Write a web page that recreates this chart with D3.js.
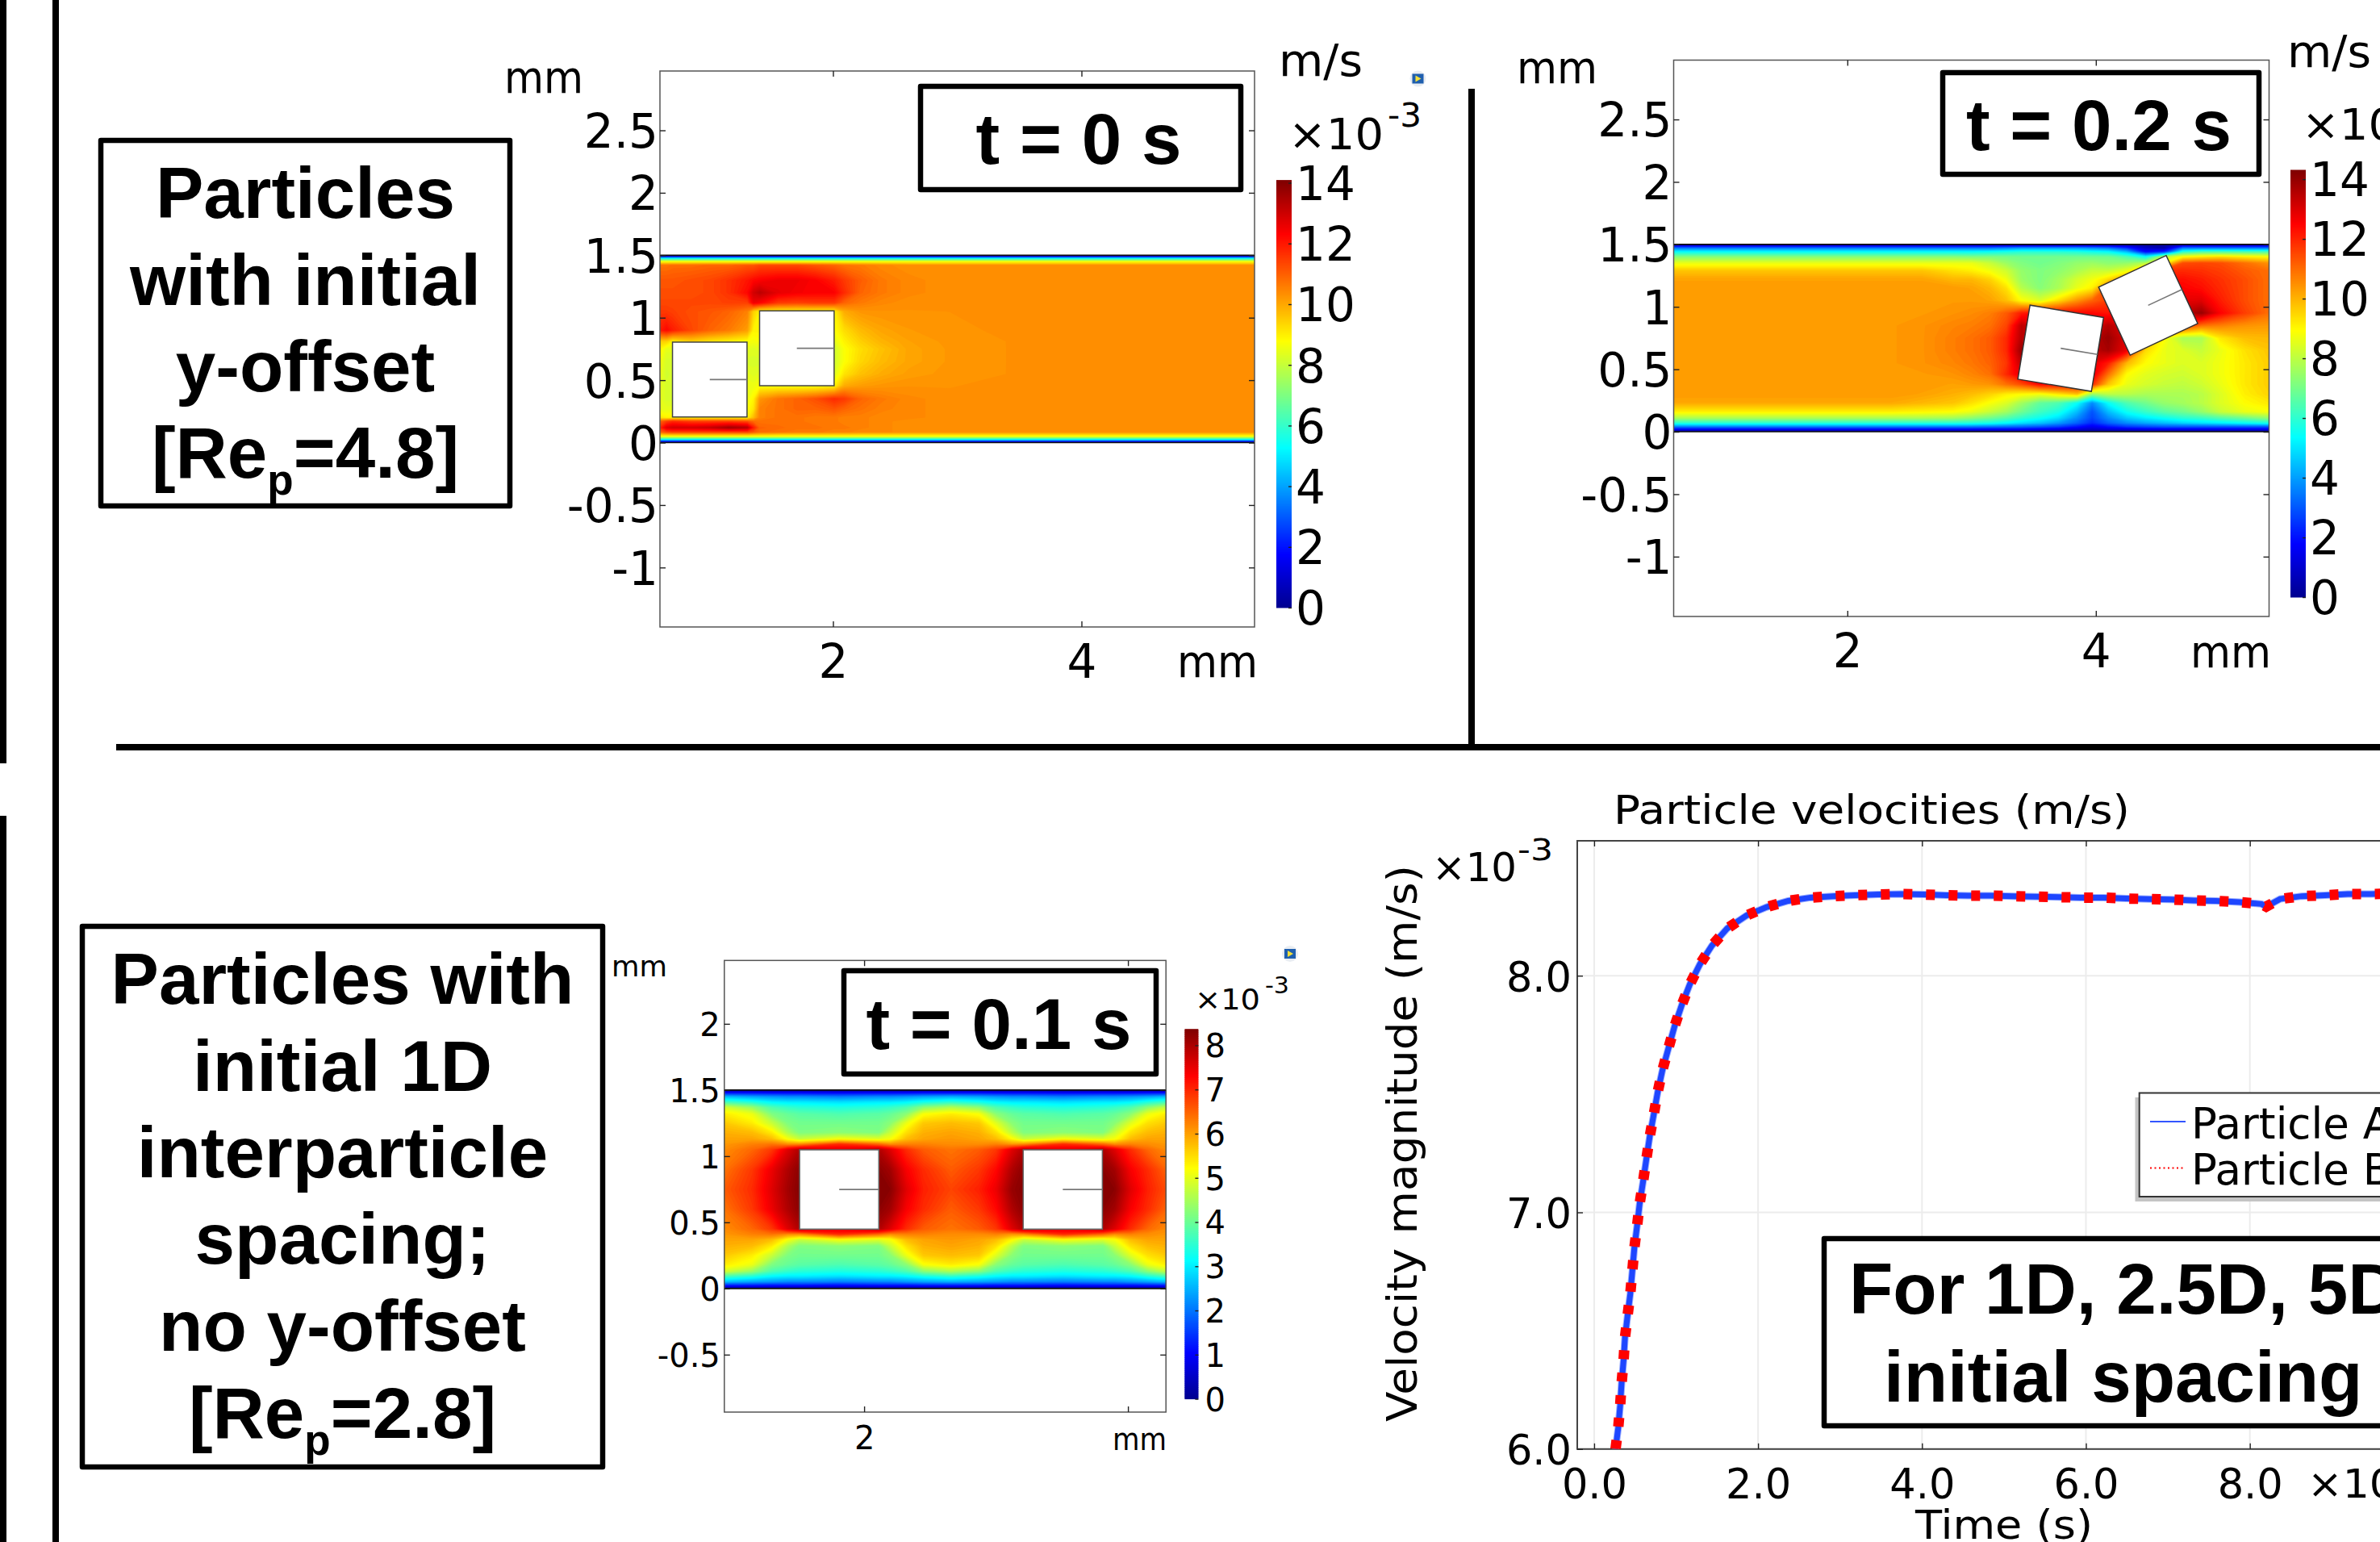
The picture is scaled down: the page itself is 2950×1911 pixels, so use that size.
<!DOCTYPE html>
<html>
<head>
<meta charset="utf-8">
<title>Particle velocity fields</title>
<script src="https://cdnjs.cloudflare.com/ajax/libs/d3/7.8.5/d3.min.js"></script>
<style>
  html, body { margin: 0; padding: 0; background: #fff; }
  svg { display: block; }
  .lbl { font-family: "DejaVu Sans", sans-serif; fill: #000; }
  .note { font-family: "Liberation Sans", Arial, sans-serif; font-weight: bold; fill: #000; }
</style>
</head>
<body>
<svg id="fig" width="2950" height="1911"></svg>
<script>
// ---- tick labels ----
const channelTicksTall = [-1, -0.5, 0, 0.5, 1, 1.5, 2, 2.5];
const channelTicksShort = [-0.5, 0, 0.5, 1, 1.5, 2];
const channelTicksX = [2, 4];
const barTicks14 = [0, 2, 4, 6, 8, 10, 12, 14];
const barTicks8 = [0, 1, 2, 3, 4, 5, 6, 7, 8];
const timeTicks = [0, 2, 4, 6, 8];
const velocityTicks = [6, 7, 8];

// ---- particles: centre (mm), tilt (degrees, counter clockwise), side 0.6 mm ----
const particleSide = 0.6;
const t0ParticleX = [1.008, 1.709];
const t0ParticleY = [0.505, 0.755];
const t0ParticleTilt = [0, 0];
const t02ParticleX = [3.717, 4.421];
const t02ParticleY = [0.668, 1.012];
const t02ParticleTilt = [-9.4, 25];
const t01ParticleX = [1.811, 3.506];
const t01ParticleY = [0.748, 0.748];
const t01ParticleTilt = [0, 0];

// ---- speed field at t = 0 s, rows from the bottom wall up (m/s x 1e-3) ----
const t0GridX = [0.607, 0.66, 0.71, 0.86, 1.01, 1.16, 1.31, 1.36, 1.41, 1.56, 1.71, 1.86, 2.01, 2.09, 2.22, 2.39, 2.61, 2.94, 3.4, 5.4];
const t0GridY = [0, 0.015, 0.03, 0.05, 0.085, 0.12, 0.17, 0.2, 0.27, 0.35, 0.455, 0.55, 0.65, 0.75, 0.81, 0.9, 1.05, 1.12, 1.2, 1.3, 1.42, 1.45, 1.47, 1.485, 1.5];
const t0Wall0 = [0, 0, 0, 0, 0, 0, 0, 0, 0, 0, 0, 0, 0, 0, 0, 0, 0, 0, 0, 0];
const t0Wall1 = [3, 3, 3, 3, 3, 3, 3, 3, 3, 3, 3, 3, 3, 3, 3, 3, 3, 3, 3, 3];
const t0Wall2 = [6, 6, 6, 6, 6, 6, 6, 6, 6, 6, 6, 6, 6, 6, 6, 6, 6, 6, 6, 6];
const t0Wall3 = [8.7, 8.7, 8.7, 8.7, 8.7, 8.7, 8.7, 8.7, 8.7, 8.7, 8.7, 8.7, 8.7, 8.7, 8.7, 8.7, 8.7, 8.7, 8.7, 8.7];
const t0Speed = [
  t0Wall0, t0Wall1, t0Wall2, t0Wall3,
  [11, 11.4, 11.5, 11.5, 11.5, 11.5, 11.5, 11.2, 10.9, 10.8, 10.7, 10.7, 10.6, 10.6, 10.5, 10.5, 10.4, 10.4, 10.4, 10.4],
  [11.8, 12.8, 13, 13, 13.2, 13.7, 13.4, 12, 11, 10.9, 10.8, 10.8, 10.7, 10.7, 10.6, 10.5, 10.4, 10.4, 10.4, 10.4],
  [11, 11.5, 11.8, 11.5, 11.5, 11.5, 11.3, 10.9, 10.8, 10.8, 10.8, 10.7, 10.7, 10.6, 10.6, 10.5, 10.4, 10.4, 10.4, 10.4],
  [9.2, 9, 9, 9, 9, 9, 9, 9.8, 10.6, 10.8, 10.8, 10.7, 10.7, 10.6, 10.6, 10.5, 10.5, 10.4, 10.4, 10.4],
  [8.5, 8.5, 8.5, 8.5, 8.5, 8.5, 8.8, 9.2, 10.6, 10.8, 11, 11, 11.2, 11, 10.8, 10.6, 10.5, 10.4, 10.4, 10.4],
  [8.5, 8.3, 8.3, 8.3, 8.3, 8.3, 8.6, 9, 10.3, 10.8, 11, 11.3, 11.8, 11.6, 11, 10.7, 10.5, 10.4, 10.4, 10.4],
  [8.5, 8.3, 8.3, 8.3, 8.3, 8.3, 8.6, 8.6, 8.8, 8.8, 8.8, 8.8, 9, 10, 10.2, 10.3, 10.35, 10.35, 10.4, 10.4],
  [8.6, 8.2, 8.3, 8.3, 8.3, 8.3, 8.5, 8.4, 8.5, 8.5, 8.5, 8.5, 8.4, 9.2, 9.7, 10, 10.2, 10.3, 10.36, 10.4],
  [8.7, 8.3, 8.3, 8.3, 8.3, 8.3, 8.3, 8.3, 8.3, 8.3, 8.3, 8.3, 8.2, 8.8, 9.4, 9.8, 10.1, 10.28, 10.36, 10.4],
  [9, 8.5, 8.5, 8.5, 8.5, 8.5, 8.5, 8.4, 8.5, 8.5, 8.5, 8.5, 8.2, 8.8, 9.3, 9.7, 10.1, 10.28, 10.36, 10.4],
  [9.5, 9.5, 9, 9.5, 9.2, 9, 8.8, 8.7, 8.8, 8.8, 8.8, 8.8, 8.5, 9, 9.5, 9.9, 10.15, 10.3, 10.36, 10.4],
  [12, 12.3, 12, 11.4, 11, 10.7, 10.2, 9, 9, 9, 9, 9, 8.8, 9.3, 9.8, 10.1, 10.25, 10.33, 10.38, 10.4],
  [11.6, 11.6, 11.5, 11.3, 11.2, 11, 10.6, 9.5, 9, 9, 9, 9, 9, 10, 10.3, 10.35, 10.35, 10.36, 10.4, 10.4],
  [11.4, 11.4, 11.4, 11.4, 11.4, 11.5, 11.5, 12.6, 12.4, 11.6, 11.5, 11.6, 11.6, 11, 10.7, 10.5, 10.4, 10.4, 10.4, 10.4],
  [11.3, 11.3, 11.3, 11.3, 11.4, 11.7, 12.3, 13, 13.3, 12.7, 12.5, 12.4, 12.4, 11.8, 11, 10.7, 10.5, 10.4, 10.4, 10.4],
  [11.2, 11.2, 11.2, 11.3, 11.4, 11.7, 12.1, 12.3, 12.4, 12.6, 12.6, 12.4, 12, 11.6, 11.1, 10.7, 10.5, 10.4, 10.4, 10.4],
  [10.8, 10.8, 10.9, 10.9, 11, 11, 11.2, 11.2, 11.4, 11.4, 11.4, 11.2, 11, 10.8, 10.7, 10.5, 10.4, 10.4, 10.4, 10.4],
  t0Wall3, t0Wall2, t0Wall1, t0Wall0
];

// ---- speed field at t = 0.2 s ----
const t02GridX = [0.6, 2, 2.35, 2.6, 2.85, 3, 3.15, 3.28, 3.4, 3.55, 3.7, 3.85, 3.97, 4.1, 4.25, 4.4, 4.55, 4.7, 4.85, 5, 5.2, 5.4];
const t02GridY = [0, 0.02, 0.04, 0.07, 0.11, 0.16, 0.23, 0.3, 0.38, 0.46, 0.55, 0.65, 0.75, 0.85, 0.95, 1.05, 1.15, 1.22, 1.29, 1.35, 1.4, 1.44, 1.47, 1.49, 1.5];
const t02Wall0 = [0, 0, 0, 0, 0, 0, 0, 0, 0, 0, 0, 0, 0, 0, 0, 0, 0, 0, 0, 0, 0, 0];
const t02Speed = [
  t02Wall0,
  [1.8, 1.8, 1.8, 1.8, 1.8, 1.8, 1.8, 1.8, 1.8, 1.6, 1.5, 1.2, 1, 1.2, 1.4, 1.5, 1.6, 1.6, 1.6, 1.6, 1.6, 1.6],
  [3.5, 3.5, 3.5, 3.5, 3.5, 3.5, 3.4, 3.3, 3.2, 3, 2.7, 2.1, 1.6, 2.1, 2.6, 2.8, 3, 3, 3, 3, 3, 3],
  [6, 6, 6, 6, 6, 5.9, 5.7, 5.4, 5, 4.6, 4, 3.2, 2.4, 3.2, 3.8, 4.2, 4.5, 4.8, 5, 5.2, 5.5, 5.8],
  [7.8, 7.8, 7.8, 7.8, 7.7, 7.4, 7, 6.6, 6.1, 5.6, 5, 3.8, 2.8, 3.8, 4.7, 5.2, 5.6, 6, 6.2, 6.6, 7, 7.5],
  [9.2, 9.2, 9.2, 9.1, 9, 8.7, 8.2, 7.7, 7, 6.3, 5.8, 4.5, 3, 4.5, 5.6, 6.2, 6.7, 7, 7.5, 8.2, 8.7, 8.9],
  [10.2, 10.2, 10.2, 10, 9.8, 9.4, 8.9, 8.5, 7.7, 6.8, 6.5, 5.5, 3.8, 5.5, 6.5, 7, 7.5, 7.7, 8, 8.5, 9, 9.3],
  [10.4, 10.4, 10.4, 10.3, 10.1, 9.9, 9.6, 9.2, 9, 8.8, 9.3, 9.8, 7.5, 8, 8, 7.8, 7.8, 7.8, 8, 8.5, 9.2, 9.6],
  [10.4, 10.4, 10.4, 10.4, 10.3, 10.4, 10.5, 11, 11.5, 12.5, 12.5, 12.5, 12, 9.8, 8.7, 8.4, 8.2, 8.1, 8.3, 8.7, 9.3, 9.7],
  [10.4, 10.4, 10.4, 10.4, 10.5, 10.7, 11, 12, 13, 13, 13, 13, 13, 11, 9, 8.6, 8.4, 8.3, 8.5, 8.8, 9.3, 9.7],
  [10.4, 10.4, 10.4, 10.5, 10.7, 10.9, 11.2, 11.8, 13.5, 13, 13, 13, 13, 12.2, 10, 9, 8.7, 8.5, 8.5, 8.8, 9.3, 9.7],
  [10.4, 10.4, 10.4, 10.5, 10.8, 11, 11.3, 12, 14, 13, 13, 13, 13.5, 13.8, 12.8, 9.5, 8.7, 8.5, 8.2, 8.7, 9.4, 9.8],
  [10.4, 10.4, 10.4, 10.5, 10.8, 11, 11.3, 12, 13.6, 13, 13, 13, 13.5, 14, 13, 11, 9, 7.8, 7.8, 9.3, 9.9, 10],
  [10.4, 10.4, 10.4, 10.5, 10.7, 10.8, 11, 11.6, 13.5, 13, 13, 13, 13, 13.6, 13, 12, 12, 12, 11, 10.8, 10.5, 10.4],
  [10.4, 10.4, 10.4, 10.4, 10.5, 10.6, 10.8, 11.3, 12.2, 12.5, 12.5, 12.5, 12.5, 12.3, 13, 13, 13, 13.5, 14, 12.6, 11.7, 11],
  [10.4, 10.4, 10.4, 10.4, 10.4, 10.4, 10.3, 9.9, 9, 8.5, 9.5, 10.5, 11.2, 11.7, 12, 12.5, 12.8, 12.9, 13, 12.2, 11.5, 11],
  [10.4, 10.4, 10.4, 10.4, 10.4, 10.3, 10, 9.4, 8, 7.3, 7.8, 8.7, 9.2, 11.5, 12, 12.3, 12.5, 12.6, 12.4, 12, 11.5, 11],
  [10.3, 10.3, 10.3, 10.3, 10, 10, 9.6, 8.8, 7.6, 7.2, 7.7, 8.4, 8.8, 9.5, 11, 12, 12.3, 12.4, 12.2, 11.9, 11.5, 11],
  [9.8, 9.8, 9.8, 9.8, 9.4, 9.2, 8.8, 8.3, 7.5, 7.2, 7.4, 7.8, 8.2, 8.2, 8.7, 11, 11.9, 12, 11.9, 11.7, 11.3, 11],
  [8.7, 8.7, 8.7, 8.7, 8.7, 8.7, 8.2, 7.6, 7.2, 7, 7.2, 7.5, 7.6, 7.4, 7.5, 8, 9, 11.5, 11.6, 11.5, 11, 10.5],
  [7.3, 7.3, 7.3, 7.3, 7.3, 7.2, 7.2, 7.1, 7, 7, 7, 7, 7, 7, 6.5, 5.5, 8, 9, 9.3, 9.5, 9.2, 9],
  [5.5, 5.5, 5.5, 5.5, 5.5, 5.5, 5.6, 5.8, 6, 6, 6, 5.9, 5.7, 5.5, 4.5, 2, 2.5, 6, 6.5, 6.5, 6.5, 6.5],
  [3.5, 3.5, 3.5, 3.5, 3.5, 3.5, 3.5, 3.7, 4, 4, 4, 4, 3.8, 3.5, 2.5, 1, 0.5, 3.5, 3.5, 3.5, 3.5, 3.5],
  [1.5, 1.5, 1.5, 1.5, 1.5, 1.5, 1.5, 1.5, 1.5, 1.5, 1.5, 1.5, 1.5, 1.5, 1.2, 0.5, 0.5, 1.5, 1.5, 1.5, 1.5, 1.5],
  t02Wall0
];

// ---- speed field at t = 0.1 s, nearly the same above and below the centre line ----
const t01GridX = [0.94, 1.15, 1.3, 1.42, 1.51, 1.81, 2.11, 2.2, 2.32, 2.45, 2.66, 2.87, 3, 3.12, 3.21, 3.51, 3.81, 3.9, 4.02, 4.15, 4.3];
const t01GridY = [0, 0.02, 0.05, 0.09, 0.13, 0.18, 0.25, 0.32, 0.37, 0.41, 0.45, 0.6, 0.75, 0.9, 1.05, 1.09, 1.13, 1.18, 1.25, 1.32, 1.37, 1.41, 1.45, 1.48, 1.5];
const t01Row00 = [0, 0, 0, 0, 0, 0, 0, 0, 0, 0, 0, 0, 0, 0, 0, 0, 0, 0, 0, 0, 0];
const t01Row02 = [1.1, 1.1, 1.05, 1.05, 1.05, 1, 1.05, 1.05, 1.05, 1.1, 1.1, 1.1, 1.05, 1.05, 1.05, 1, 1.05, 1.05, 1.05, 1.1, 1.1];
const t01Row05 = [2.6, 2.4, 2.3, 2.2, 2.2, 2.1, 2.2, 2.2, 2.3, 2.4, 2.5, 2.4, 2.3, 2.2, 2.2, 2.1, 2.2, 2.2, 2.3, 2.4, 2.6];
const t01Row09 = [3.7, 3.4, 3.1, 3, 3, 2.9, 3, 3, 3.1, 3.3, 3.5, 3.3, 3.1, 3, 3, 2.9, 3, 3, 3.1, 3.4, 3.7];
const t01Row13 = [4.9, 4.4, 3.8, 3.6, 3.5, 3.4, 3.5, 3.6, 3.8, 4.3, 4.6, 4.3, 3.8, 3.6, 3.5, 3.4, 3.5, 3.6, 3.8, 4.3, 4.8];
const t01Row18 = [5.4, 5.1, 4.2, 4, 3.9, 3.8, 3.9, 4, 4.3, 5.2, 5.4, 5.2, 4.3, 4, 3.9, 3.8, 3.9, 4, 4.3, 5.1, 5.4];
const t01Row25 = [5.7, 5.4, 4.8, 4.2, 4.1, 4.1, 4.1, 4.3, 5.1, 5.7, 5.8, 5.7, 5, 4.3, 4.1, 4.1, 4.1, 4.3, 5, 5.5, 5.7];
const t01Row32 = [5.9, 5.8, 5.4, 4.6, 4.2, 4.3, 4.2, 4.8, 5.5, 5.9, 6, 5.9, 5.5, 4.7, 4.2, 4.3, 4.2, 4.8, 5.5, 5.8, 5.9];
const t01Row37 = [6, 6, 5.8, 5.2, 4.8, 5.2, 5, 5.2, 5.8, 6, 6.1, 6, 5.8, 5.3, 4.8, 5.2, 5, 5.2, 5.8, 6, 6];
const t01Row41 = [6.1, 6.3, 6.4, 6.2, 6.2, 7, 6.5, 6.2, 6.3, 6.3, 6.2, 6.2, 6.3, 6.1, 6.2, 7, 6.5, 6.2, 6.3, 6.2, 6.1];
const t01Row45 = [6.2, 6.5, 6.9, 7.6, 8, 7.6, 8, 7.6, 7, 6.6, 6.4, 6.6, 6.9, 7.6, 8, 7.6, 8, 7.6, 7, 6.5, 6.2];
const t01Row60 = [6.4, 6.9, 7.5, 8, 8.3, 8.3, 8.3, 8.1, 7.4, 7, 6.6, 6.9, 7.3, 8, 8.3, 8.3, 8.3, 8.1, 7.4, 7, 6.5];
const t01Row75 = [6.6, 7, 7.6, 8.1, 8.36, 8.36, 8.36, 8.3, 7.6, 7.1, 6.8, 7.1, 7.5, 8.2, 8.36, 8.36, 8.36, 8.3, 7.6, 7.1, 6.7];
const t01Speed = [
  t01Row00, t01Row02, t01Row05, t01Row09, t01Row13, t01Row18, t01Row25, t01Row32, t01Row37, t01Row41, t01Row45, t01Row60,
  t01Row75,
  t01Row60, t01Row45, t01Row41, t01Row37, t01Row32, t01Row25, t01Row18, t01Row13, t01Row09, t01Row05, t01Row02, t01Row00
];

// ---- particle velocity curves (time in the axis units, velocity x 1e-3 m/s) ----
const timeValues = [0.261, 0.294, 0.318, 0.335, 0.359, 0.376, 0.408, 0.441, 0.466, 0.49, 0.523, 0.555, 0.596, 0.637, 0.678, 0.727, 0.776, 0.833, 0.906, 0.98, 1.07, 1.168, 1.29, 1.437, 1.625, 1.862, 2.107, 2.368, 2.638, 2.915, 3.185, 3.463, 3.74, 4.018, 4.296, 4.565, 4.843, 5.112, 5.39, 5.668, 5.937, 6.215, 6.492, 6.77, 7.04, 7.317, 7.587, 7.873, 8.142, 8.2, 8.37, 8.632, 8.918, 9.195, 9.473, 9.857];
const particleAVelocity = [6, 6.09, 6.186, 6.278, 6.374, 6.47, 6.564, 6.656, 6.752, 6.848, 6.94, 7.036, 7.128, 7.225, 7.32, 7.413, 7.509, 7.601, 7.693, 7.785, 7.877, 7.964, 8.048, 8.127, 8.2, 8.255, 8.29, 8.316, 8.33, 8.336, 8.34, 8.343, 8.345, 8.343, 8.34, 8.338, 8.338, 8.336, 8.334, 8.332, 8.33, 8.33, 8.326, 8.324, 8.322, 8.318, 8.316, 8.311, 8.303, 8.292, 8.324, 8.336, 8.34, 8.345, 8.345, 8.347];
const particleBVelocity = [6, 6.09, 6.186, 6.278, 6.374, 6.47, 6.564, 6.656, 6.752, 6.848, 6.94, 7.036, 7.128, 7.225, 7.32, 7.413, 7.509, 7.601, 7.693, 7.785, 7.877, 7.964, 8.048, 8.127, 8.2, 8.255, 8.29, 8.316, 8.33, 8.336, 8.34, 8.343, 8.345, 8.343, 8.34, 8.338, 8.338, 8.336, 8.334, 8.332, 8.33, 8.33, 8.326, 8.324, 8.322, 8.318, 8.316, 8.311, 8.303, 8.292, 8.324, 8.336, 8.34, 8.345, 8.345, 8.347];

const svg = d3.select('#fig');
const defs = svg.append('defs');

// jet colormap, fraction 0..1 to colour
const jet = d3.scaleLinear()
  .domain([0, 0.125, 0.375, 0.625, 0.875, 1])
  .range(['#00008f', '#0000ff', '#00ffff', '#ffff00', '#ff0000', '#800000'])
  .clamp(true);

function addText(parent, str, x, y, size, opts = {}) {
  const t = parent.append('text')
    .attr('class', opts.cls || 'lbl')
    .attr('x', x)
    .attr('y', y)
    .attr('font-size', size)
    .attr('text-anchor', opts.anchor || 'start')
    .text(str);
  if (opts.width) t.attr('textLength', opts.width).attr('lengthAdjust', 'spacingAndGlyphs');
  return t;
}

function noteBox(x0, y0, x1, y1) {
  svg.append('rect')
    .attr('x', x0 + 3).attr('y', y0 + 3)
    .attr('width', x1 - x0 - 6).attr('height', y1 - y0 - 6)
    .attr('fill', '#fff')
    .attr('stroke', '#000')
    .attr('stroke-width', 6.5)
    .attr('stroke-linejoin', 'round');
}

// bold label with a subscripted p, like [Re_p=4.8]
function reynoldsLine(str, x, y) {
  const t = svg.append('text').attr('class', 'note').attr('x', x).attr('y', y)
    .attr('font-size', 89).attr('text-anchor', 'middle');
  t.append('tspan').text('[Re');
  t.append('tspan').attr('font-size', 53).attr('dy', 21).text('p');
  t.append('tspan').attr('dy', -21).text(str);
}

function styleAxis(g, size, dy) {
  g.select('.domain').remove();
  g.selectAll('.tick line').attr('stroke', '#222').attr('stroke-width', 1.4);
  g.selectAll('.tick text')
    .attr('class', 'lbl')
    .attr('font-family', null)
    .attr('font-size', size)
    .attr('fill', '#000');
  if (dy) g.selectAll('.tick text').attr('dy', dy);
}

function drawField(p) {
  const x = d3.scaleLinear().domain(p.xDomain).range([p.x0, p.x1]);
  const y = d3.scaleLinear().domain(p.yDomain).range([p.y1, p.y0]);
  const clipId = 'clip-' + p.id;
  defs.append('clipPath').attr('id', clipId).append('rect')
    .attr('x', p.x0).attr('y', p.y0).attr('width', p.x1 - p.x0).attr('height', p.y1 - p.y0);

  const g = svg.append('g');
  const layer = g.append('g').attr('clip-path', `url(#${clipId})`);

  // contour bands over the measured grid; grid spacing is not uniform, so remap the contour coordinates
  const nx = p.gridX.length;
  const ny = p.gridY.length;
  const gridToX = d3.scaleLinear().domain(p.gridX.map((_, i) => i + 0.5)).range(p.gridX.map(x)).clamp(true);
  const gridToY = d3.scaleLinear().domain(p.gridY.map((_, i) => i + 0.5)).range(p.gridY.map(y)).clamp(true);
  const path = d3.geoPath(d3.geoTransform({
    point(a, b) { this.stream.point(gridToX(a), gridToY(b)); }
  }));
  const thresholds = d3.range(0, p.barMax, p.barMax / 140);
  const bands = d3.contours().size([nx, ny]).smooth(true).thresholds(thresholds)(p.speed.flat());
  layer.selectAll('path.band')
    .data(bands)
    .join('path')
    .attr('class', 'band')
    .attr('d', path)
    .attr('fill', d => jet(d.value / p.barMax));

  // channel walls
  layer.selectAll('line.wall')
    .data([0, 1.5])
    .join('line')
    .attr('class', 'wall')
    .attr('x1', p.x0).attr('x2', p.x1)
    .attr('y1', d => y(d)).attr('y2', d => y(d))
    .attr('stroke', '#111').attr('stroke-width', 1.6);

  // particles
  p.partX.forEach((cx, i) => {
    const a = p.partTilt[i] * Math.PI / 180;
    const h = particleSide / 2;
    const corner = (u, v) => [
      x(cx + u * Math.cos(a) - v * Math.sin(a)),
      y(p.partY[i] + u * Math.sin(a) + v * Math.cos(a))
    ];
    const pts = [corner(-h, -h), corner(h, -h), corner(h, h), corner(-h, h)];
    layer.append('polygon')
      .attr('points', pts.map(d => d.join(',')).join(' '))
      .attr('fill', '#fff')
      .attr('stroke', p.partStroke)
      .attr('stroke-width', 1.5);
    const r0 = corner(0, 0);
    const r1 = corner(h, 0);
    layer.append('line')
      .attr('x1', r0[0]).attr('y1', r0[1]).attr('x2', r1[0]).attr('y2', r1[1])
      .attr('stroke', '#777').attr('stroke-width', 1.6);
  });

  // frame and ticks, ticks point inwards on all sides
  g.append('rect')
    .attr('x', p.x0).attr('y', p.y0)
    .attr('width', p.x1 - p.x0).attr('height', p.y1 - p.y0)
    .attr('fill', 'none').attr('stroke', '#555').attr('stroke-width', 1.5);

  const left = g.append('g').attr('transform', `translate(${p.x0},0)`)
    .call(d3.axisLeft(y).tickValues(p.yTicks).tickSize(-7).tickPadding(p.yPad).tickFormat(d => String(d)));
  styleAxis(left, p.fs, '0.36em');
  const right = g.append('g').attr('transform', `translate(${p.x1},0)`)
    .call(d3.axisRight(y).tickValues(p.yTicks).tickSize(-7).tickFormat(''));
  styleAxis(right, p.fs);
  const bottom = g.append('g').attr('transform', `translate(0,${p.y1})`)
    .call(d3.axisBottom(x).tickValues(channelTicksX).tickSize(-7).tickPadding(p.xPad)
      .tickFormat(d => (p.hideFour && d === 4) ? '' : String(d)));
  styleAxis(bottom, p.fs);
  const top = g.append('g').attr('transform', `translate(0,${p.y0})`)
    .call(d3.axisTop(x).tickValues(channelTicksX).tickSize(-7).tickFormat(''));
  styleAxis(top, p.fs);

  // colour bar
  const bar = d3.scaleLinear().domain([0, p.barMax]).range([p.barY1, p.barY0]);
  const steps = d3.range(0, p.barMax, p.barMax / 260);
  g.selectAll('rect.step')
    .data(steps)
    .join('rect')
    .attr('class', 'step')
    .attr('x', p.barX0)
    .attr('width', p.barX1 - p.barX0)
    .attr('y', d => bar(d + p.barMax / 260) - 0.5)
    .attr('height', d => bar(d) - bar(d + p.barMax / 260) + 1)
    .attr('fill', d => jet((d + p.barMax / 520) / p.barMax));
  const barAxis = g.append('g').attr('transform', `translate(${p.barX1},0)`)
    .call(d3.axisRight(bar).tickValues(p.barTicks).tickSize(-4).tickPadding(p.barPad).tickFormat(d => String(d)));
  styleAxis(barAxis, p.fs, '0.36em');
  return g;
}

function smallIcon(cx, cy) {
  svg.append('circle').attr('cx', cx).attr('cy', cy).attr('r', 10).attr('fill', '#e9edf2');
  svg.append('rect').attr('x', cx - 7).attr('y', cy - 6).attr('width', 14).attr('height', 12).attr('fill', '#1f5fae');
  svg.append('polygon')
    .attr('points', [[cx - 3, cy - 4], [cx + 4, cy], [cx - 3, cy + 4]].map(d => d.join(',')).join(' '))
    .attr('fill', '#f3df3a');
}

// ---- divider lines ----
const rules = [[0, 0, 8, 946], [0, 1011, 8, 1911], [65, 0, 73, 1911], [144, 922, 2950, 930], [1820, 110, 1828, 926]];
svg.selectAll('rect.rule')
  .data(rules)
  .join('rect')
  .attr('class', 'rule')
  .attr('x', d => d[0]).attr('y', d => d[1])
  .attr('width', d => d[2] - d[0]).attr('height', d => d[3] - d[1])
  .attr('fill', '#000');

// ---- t = 0 s ----
drawField({
  id: 't0', x0: 818, x1: 1555, y0: 88, y1: 777,
  xDomain: [0.607, 5.393], yDomain: [-1.476, 2.975],
  gridX: t0GridX, gridY: t0GridY, speed: t0Speed,
  partX: t0ParticleX, partY: t0ParticleY, partTilt: t0ParticleTilt, partStroke: '#444',
  yTicks: channelTicksTall, fs: 58, yPad: 2, xPad: 22,
  barMax: 14.08, barY0: 223.6, barY1: 753, barX0: 1582, barX1: 1601, barTicks: barTicks14, barPad: 5
});
addText(svg, 'mm', 625, 115, 56, { width: 98 });
addText(svg, 'mm', 1459, 839, 56, { width: 100 });
addText(svg, 'm/s', 1585, 94, 56, { width: 104 });
addText(svg, '×10', 1597, 185, 54, { width: 118 });
addText(svg, '-3', 1720, 157, 41, { width: 42 });
smallIcon(1757.5, 97.5);

// ---- t = 0.2 s ----
drawField({
  id: 't02', x0: 2074.5, x1: 2812.5, y0: 74.5, y1: 764,
  xDomain: [0.602, 5.394], yDomain: [-1.479, 2.975],
  gridX: t02GridX, gridY: t02GridY, speed: t02Speed,
  partX: t02ParticleX, partY: t02ParticleY, partTilt: t02ParticleTilt, partStroke: '#333',
  yTicks: channelTicksTall, fs: 58, yPad: 2, xPad: 22,
  barMax: 14.3, barY0: 211, barY1: 740, barX0: 2839, barX1: 2858, barTicks: barTicks14, barPad: 5
});
addText(svg, 'mm', 1880, 103, 56, { width: 100 });
addText(svg, 'mm', 2715, 827, 56, { width: 100 });
addText(svg, 'm/s', 2835, 83, 56, { width: 104 });
addText(svg, '×10', 2853, 173, 54, { width: 118 });

// ---- t = 0.1 s ----
drawField({
  id: 't01', x0: 897.8, x1: 1445.2, y0: 1190.3, y1: 1750,
  xDomain: [0.94, 4.288], yDomain: [-0.934, 2.479],
  gridX: t01GridX, gridY: t01GridY, speed: t01Speed,
  partX: t01ParticleX, partY: t01ParticleY, partTilt: t01ParticleTilt, partStroke: '#666',
  yTicks: channelTicksShort, fs: 40, yPad: 5, xPad: 18, hideFour: true,
  barMax: 8.36, barY0: 1275.7, barY1: 1733.6, barX0: 1468.4, barX1: 1485.4, barTicks: barTicks8, barPad: 8
});
addText(svg, 'mm', 758, 1210, 36, { width: 69 });
addText(svg, 'mm', 1379, 1797, 38, { width: 67 });
addText(svg, '×10', 1481, 1251, 36, { width: 81 });
addText(svg, '-3', 1568, 1231, 28, { width: 30 });
smallIcon(1599, 1182);

// ---- note boxes ----
noteBox(122, 171, 635, 630);
['Particles', 'with initial', 'y-offset'].forEach((s, i) => {
  addText(svg, s, 378.5, [270, 377.5, 485][i], 89, { cls: 'note', anchor: 'middle' });
});
reynoldsLine('=4.8]', 378.5, 592);

noteBox(1138, 104, 1541, 238);
addText(svg, 't = 0 s', 1337, 203, 89, { cls: 'note', anchor: 'middle' });
noteBox(2405, 87, 2803, 219);
addText(svg, 't = 0.2 s', 2601.5, 186, 89, { cls: 'note', anchor: 'middle' });
noteBox(1043, 1200, 1436, 1334);
addText(svg, 't = 0.1 s', 1238, 1300, 89, { cls: 'note', anchor: 'middle' });

noteBox(99, 1145, 750, 1821);
['Particles with', 'initial 1D', 'interparticle', 'spacing;', 'no y-offset'].forEach((s, i) => {
  addText(svg, s, 424.5, [1244, 1351.5, 1459, 1566, 1674][i], 89, { cls: 'note', anchor: 'middle' });
});
reynoldsLine('=2.8]', 424.5, 1782);

// ---- velocity chart ----
const chartX0 = 1955;
const chartX1 = 3000;
const chartY0 = 1042;
const chartY1 = 1795.8;
const timeScale = d3.scaleLinear().domain([-0.206, 10.08]).range([chartX0, chartX1]);
const velScale = d3.scaleLinear().domain([6, 8.57]).range([chartY1, chartY0]);

const chart = svg.append('g');
defs.append('clipPath').attr('id', 'clip-chart').append('rect')
  .attr('x', chartX0).attr('y', chartY0).attr('width', chartX1 - chartX0).attr('height', chartY1 - chartY0);

chart.append('g').selectAll('line')
  .data(timeTicks)
  .join('line')
  .attr('x1', d => timeScale(d)).attr('x2', d => timeScale(d))
  .attr('y1', chartY0).attr('y2', chartY1)
  .attr('stroke', '#ececec').attr('stroke-width', 2);
chart.append('g').selectAll('line')
  .data(velocityTicks)
  .join('line')
  .attr('x1', chartX0).attr('x2', chartX1)
  .attr('y1', d => velScale(d)).attr('y2', d => velScale(d))
  .attr('stroke', '#ececec').attr('stroke-width', 2);

chart.append('rect')
  .attr('x', chartX0).attr('y', chartY0)
  .attr('width', chartX1 - chartX0).attr('height', chartY1 - chartY0)
  .attr('fill', 'none').attr('stroke', '#444').attr('stroke-width', 2);

const chartLeft = chart.append('g').attr('transform', `translate(${chartX0},0)`)
  .call(d3.axisLeft(velScale).tickValues(velocityTicks).tickSize(-7).tickPadding(7).tickFormat(d3.format('.1f')));
styleAxis(chartLeft, 51, '0.37em');
const chartBottom = chart.append('g').attr('transform', `translate(0,${chartY1})`)
  .call(d3.axisBottom(timeScale).tickValues(timeTicks).tickSize(-7).tickPadding(25).tickFormat(d3.format('.1f')));
styleAxis(chartBottom, 51);
const chartTop = chart.append('g').attr('transform', `translate(0,${chartY0})`)
  .call(d3.axisTop(timeScale).tickValues(timeTicks).tickSize(-7).tickFormat(''));
styleAxis(chartTop, 51);

const curve = d3.line().x((d, i) => timeScale(timeValues[i])).y(d => velScale(d));
const curves = chart.append('g').attr('clip-path', 'url(#clip-chart)');
curves.append('path')
  .attr('d', curve(particleAVelocity))
  .attr('fill', 'none').attr('stroke', '#9db0ff').attr('stroke-width', 9);
curves.append('path')
  .attr('d', curve(particleAVelocity))
  .attr('fill', 'none').attr('stroke', '#1e46ff').attr('stroke-width', 7);
curves.append('path')
  .attr('d', curve(particleBVelocity))
  .attr('fill', 'none').attr('stroke', '#ff0000').attr('stroke-width', 13)
  .attr('stroke-dasharray', '11 17');

addText(svg, 'Particle velocities (m/s)', 2000, 1021, 50, { width: 640 });
addText(svg, '×10', 1775, 1092, 49, { width: 105 });
addText(svg, '-3', 1881, 1066, 38, { width: 44 });
addText(svg, 'Time (s)', 2374, 1907, 50, { width: 220 });
addText(svg, '×10', 2860, 1856, 50, { width: 110 });
const yTitle = addText(svg, 'Velocity magnitude (m/s)', 0, 0, 52, { width: 690 });
yTitle.attr('transform', 'translate(1756,1762) rotate(-90)');

// legend
svg.append('rect').attr('x', 2646.5).attr('y', 1360).attr('width', 320).attr('height', 129).attr('fill', '#c4c4c4');
svg.append('rect').attr('x', 2651.7).attr('y', 1354.5).attr('width', 320).attr('height', 128.5)
  .attr('fill', '#fff').attr('stroke', '#333').attr('stroke-width', 2);
svg.append('line').attr('x1', 2665).attr('x2', 2709).attr('y1', 1390).attr('y2', 1390)
  .attr('stroke', '#3355ff').attr('stroke-width', 2.2);
svg.append('line').attr('x1', 2665).attr('x2', 2709).attr('y1', 1447.5).attr('y2', 1447.5)
  .attr('stroke', '#ff0000').attr('stroke-width', 2.2).attr('stroke-dasharray', '2 3.5');
addText(svg, 'Particle A', 2716, 1411, 53);
addText(svg, 'Particle B', 2716, 1468, 53);

noteBox(2258, 1532, 3000, 1770);
addText(svg, 'For 1D, 2.5D, 5D', 2292, 1628, 89, { cls: 'note' });
addText(svg, 'initial spacing', 2335, 1737, 89, { cls: 'note' });
</script>
</body>
</html>
